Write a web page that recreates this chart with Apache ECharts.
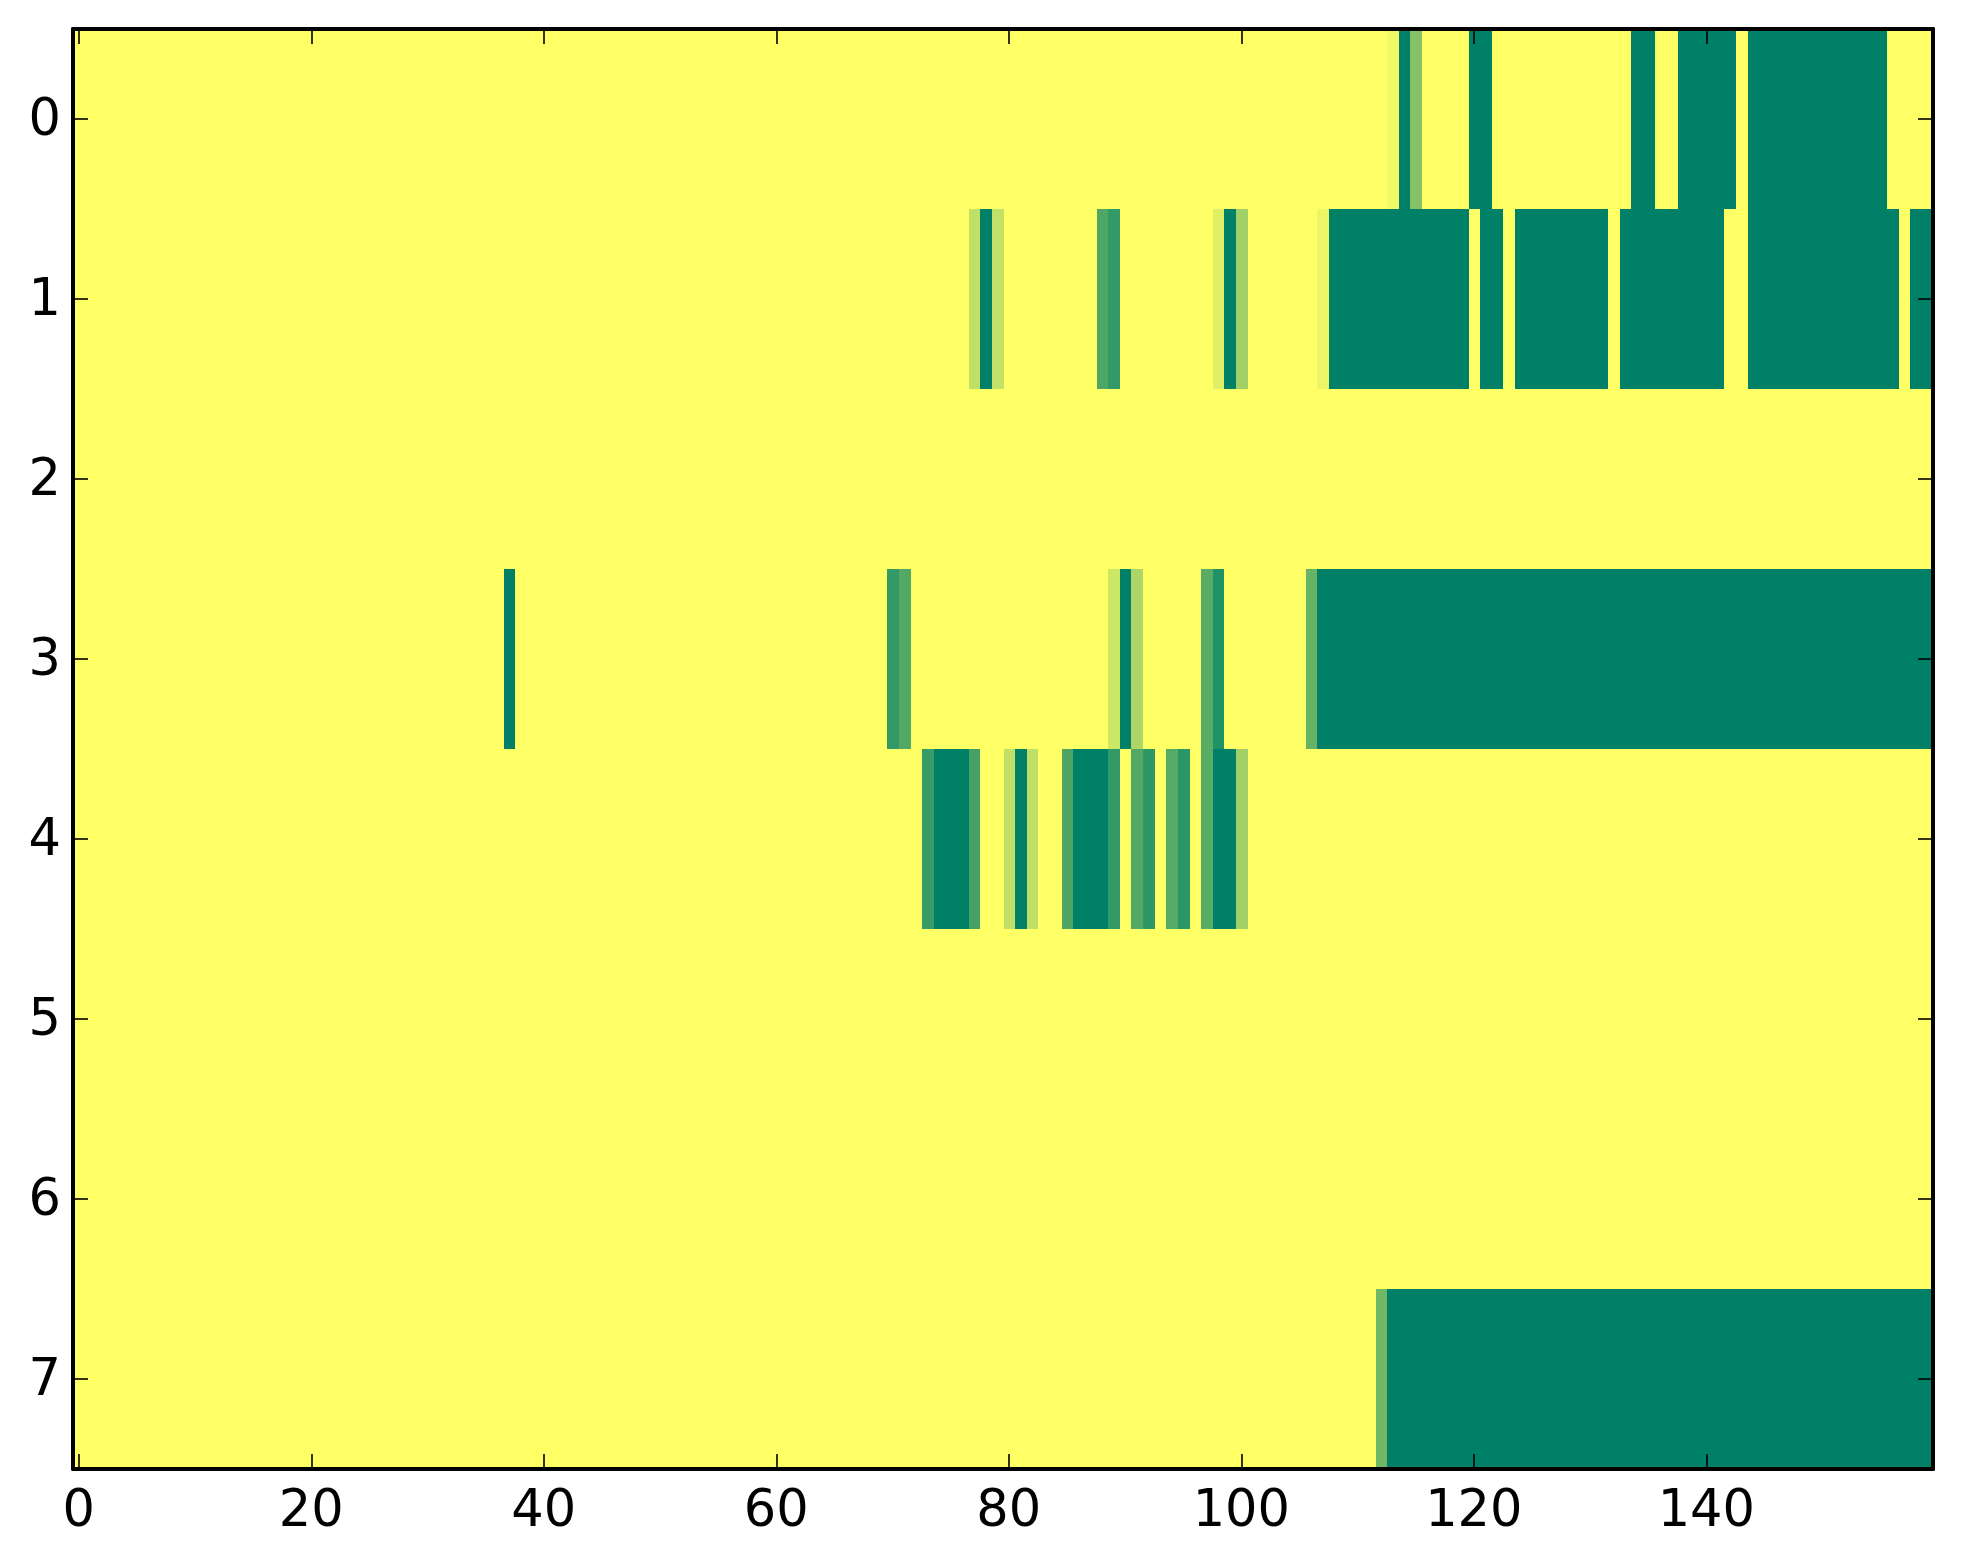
<!DOCTYPE html>
<html>
<head>
<meta charset="utf-8">
<style>html,body{margin:0;padding:0;background:#fff}#chart{width:1963px;height:1564px}</style>
<script src="https://cdn.jsdelivr.net/npm/echarts@6/dist/echarts.min.js"></script>
</head>
<body>
<div id="chart"></div>
<script>
// Each row: runs of [firstColumn, lastColumn, value]; anything unlisted is 0.
const row0 = [[113,113,0.05],[114,114,1],[115,115,0.47],[120,121,1],[134,135,1],[138,142,1],[144,155,1]];
const row1 = [[77,77,0.25],[78,78,1],[79,79,0.24],[88,88,0.69],[89,89,0.8],[98,98,0.12],[99,99,1],[100,100,0.37],
              [107,107,0.07],[108,119,1],[121,122,1],[124,131,1],[133,141,1],[144,156,1],[158,159,1]];
const row2 = [];
const row3 = [[37,37,1],[70,70,0.8],[71,71,0.68],[89,89,0.2],[90,90,1],[91,91,0.32],[97,97,0.65],[98,98,0.87],
              [106,106,0.6],[107,159,1]];
const row4 = [[73,73,0.78],[74,76,1],[77,77,0.73],[80,80,0.25],[81,81,1],[82,82,0.25],[85,85,0.7],[86,88,1],[89,89,0.8],
              [91,91,0.68],[92,92,0.82],[94,94,0.67],[95,95,0.83],[97,97,0.65],[98,99,1],[100,100,0.37]];
const row5 = [];
const row6 = [];
const row7 = [[112,112,0.56],[113,159,1]];
const rows = [row0,row1,row2,row3,row4,row5,row6,row7];

const columnCount = 160;
const xCategories = Array.from({length: columnCount}, (_, i) => String(i));
const yCategories = ['0','1','2','3','4','5','6','7'];

const cells = [];
rows.forEach((runs, y) => {
  const values = new Array(columnCount).fill(0);
  runs.forEach(([a, b, v]) => { for (let c = a; c <= b; c++) values[c] = v; });
  values.forEach((v, x) => cells.push([x, y, v]));
});

const LABEL_FONT = {fontFamily: 'DejaVu Sans', fontSize: 51, color: '#000'};
const every20 = i => i % 20 === 0;
const line = {show: true, onZero: false, lineStyle: {color: '#000', width: 4}};
const xTick = {show: true, inside: true, length: 15, alignWithLabel: true, interval: every20, lineStyle: {color: '#000', width: 1.6}};
const yTick = {show: true, inside: true, length: 15, alignWithLabel: true, interval: 0, lineStyle: {color: '#000', width: 1.6}};

const chart = echarts.init(document.getElementById('chart'), null, {renderer: 'canvas'});
chart.setOption({
  animation: false,
  backgroundColor: '#fff',
  grid: {left: 73, top: 29, width: 1860, height: 1440, show: false},
  tooltip: {show: false},
  visualMap: {show: false, type: 'continuous', min: 0, max: 1, dimension: 2, seriesIndex: 0,
              inRange: {color: ['#ffff66', '#008066']}},
  xAxis: [
    {type: 'category', data: xCategories, position: 'bottom', z: 10,
     axisLine: line, axisTick: xTick, splitLine: {show: false},
     axisLabel: Object.assign({show: true, interval: every20, margin: 18}, LABEL_FONT)},
    {type: 'category', data: xCategories, position: 'top', z: 10,
     axisLine: line, axisTick: xTick, splitLine: {show: false}, axisLabel: {show: false}}
  ],
  yAxis: [
    {type: 'category', data: yCategories, position: 'left', inverse: true, z: 10,
     axisLine: line, axisTick: yTick, splitLine: {show: false},
     axisLabel: Object.assign({show: true, interval: 0, margin: 12, verticalAlign: 'top', padding: [-23,0,0,0]}, LABEL_FONT)},
    {type: 'category', data: yCategories, position: 'right', inverse: true, z: 10,
     axisLine: line, axisTick: yTick, splitLine: {show: false}, axisLabel: {show: false}}
  ],
  series: [{
    type: 'custom',
    xAxisIndex: 0, yAxisIndex: 0,
    data: cells,
    encode: {x: 0, y: 1},
    progressive: 0,
    renderItem: function (params, api) {
      const c = api.coord([api.value(0), api.value(1)]);
      const s = api.size([1, 1]);
      const l = Math.round(c[0] - s[0] / 2 + 0.6), r = Math.round(c[0] + s[0] / 2 + 0.6);
      const t = Math.round(c[1] - s[1] / 2), b = Math.round(c[1] + s[1] / 2);
      return {type: 'rect', shape: {x: l, y: t, width: r - l, height: b - t},
              style: {fill: api.visual('color')}, emphasisDisabled: true};
    }
  }]
});
</script>
</body>
</html>
